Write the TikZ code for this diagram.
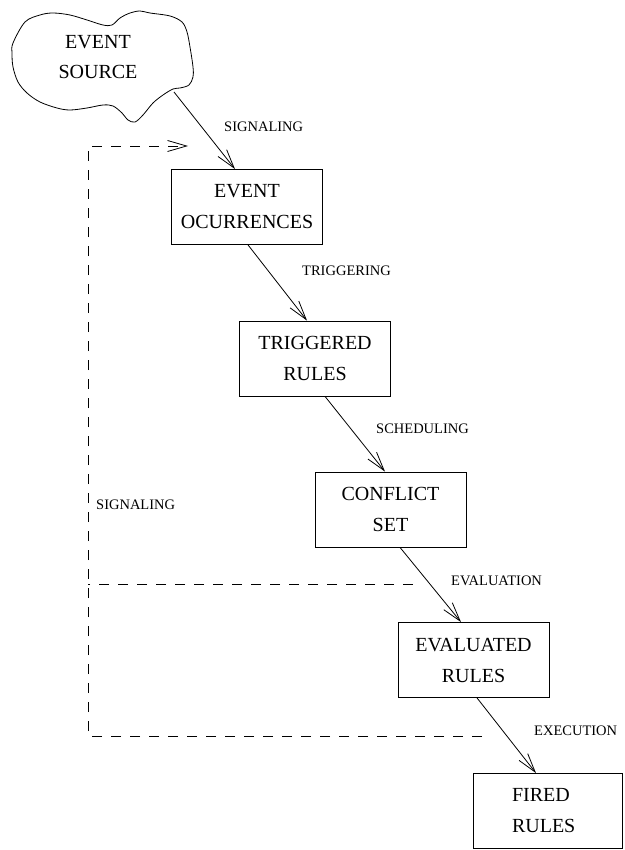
\documentclass[tikz,border=0pt]{standalone}
\usepackage{fontspec}
\setmainfont{Liberation Serif}
\usetikzlibrary{arrows.meta}
\begin{document}
\begin{tikzpicture}[x=1pt,y=-1pt,
  stage/.style={draw, line width=0.8pt, minimum width=151pt, minimum height=75pt,
    inner sep=0pt, align=center, font=\fontsize{20}{31}\selectfont},
  lbl/.style={anchor=west, inner sep=0pt, font=\fontsize{14.5}{17}\selectfont},
  tip/.style={-{Straight Barb[length=19pt,width=11pt,line width=0.8pt]}},
  flow/.style={line width=0.8pt, tip},
  feedback/.style={line width=0.8pt, dash pattern=on 10pt off 9pt},
]
\useasboundingbox (0,0) rectangle (624,850);

% event source cloud
\draw[line width=0.8pt] plot[smooth cycle, tension=0.55] coordinates {
  (13,43) (25,22) (40,15) (53,13) (70,15) (87,20) (103,25) (112,25)
  (120,18) (130,13) (140,11) (150,13) (170,16) (182,22) (187,32)
  (190,47) (193,67) (193,77) (189,85) (180,88) (173,89) (163,95)
  (153,103) (143,115) (135,122) (128,120) (122,113) (113,106)
  (103,105) (87,108) (70,110) (57,108) (40,102) (27,93) (18,82)
  (13,67) (12,53)};
\node[inner sep=0pt, align=center, font=\fontsize{20}{30}\selectfont] (src) at (98,57) {EVENT\\SOURCE};
\coordinate (srcOut) at (174,92);

% processing stages
\node[stage] (occ)  at (247,207)   {EVENT\\OCURRENCES};
\node[stage] (trig) at (315,358.5) {TRIGGERED\\RULES};
\node[stage] (conf) at (390.5,509.5) {CONFLICT\\SET};
\node[stage] (eval) at (473.5,660) {EVALUATED\\RULES};
\node[stage, align=left, minimum width=149pt, text width=71pt, inner xsep=39pt] (fired) at (547.5,811) {FIRED\\RULES};

% main flow
\draw[flow] (srcOut) -- ([xshift=-12pt]occ.north);
\draw[flow] ([xshift=1pt]occ.south) -- ([xshift=-8pt]trig.north);
\draw[flow] ([xshift=10pt]trig.south) -- ([xshift=-5.5pt]conf.north);
\draw[flow] ([xshift=9.5pt]conf.south) -- ([xshift=-12.5pt]eval.north);
\draw[flow] ([xshift=3.5pt]eval.south) -- ([xshift=-11.5pt]fired.north);

% flow labels
\node[lbl] (lSig)  at (224,127) {SIGNALING};
\node[lbl] (lTrig) at (302,271) {TRIGGERING};
\node[lbl] (lSch)  at (376,429) {SCHEDULING};
\node[lbl] (lEva)  at (451,581) {EVALUATION};
\node[lbl] (lExe)  at (534,731) {EXECUTION};
\node[lbl] (lFb)   at (96,505)  {SIGNALING};

% feedback signaling
\coordinate (fbTop)    at (188,146);
\coordinate (fbExec)   at (482,736);
\coordinate (fbEval)   at (413,584);
\coordinate (fbCorner) at (88,736);
\draw[feedback, tip] (fbExec) -- (fbCorner) |- (fbTop);
\draw[feedback] (fbEval) -- (fbEval -| fbCorner);
\end{tikzpicture}
\end{document}
